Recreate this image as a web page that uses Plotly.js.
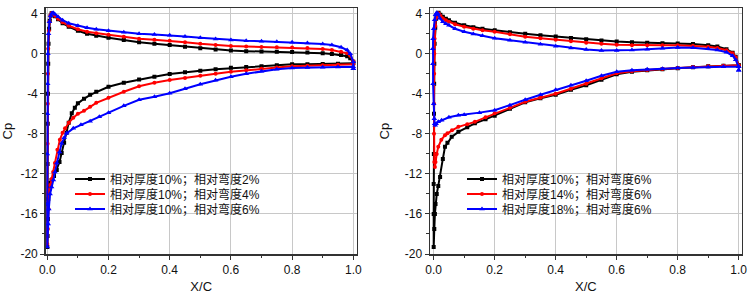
<!DOCTYPE html>
<html>
<head>
<meta charset="utf-8">
<script src="https://cdn.plot.ly/plotly-3.0.1.min.js"></script>
<style>html,body{margin:0;padding:0;background:#fff;}#chart{width:748px;height:301px;}</style>
</head>
<body>
<div id="chart"></div>
<script>
// ---- Series names ----
const namesLeft = ["相对厚度10%；相对弯度2%", "相对厚度10%；相对弯度4%", "相对厚度10%；相对弯度6%"];
const namesRight = ["相对厚度10%；相对弯度6%", "相对厚度14%；相对弯度6%", "相对厚度18%；相对弯度6%"];

// ---- Left panel: thickness 10%, camber 2% ----
const L1_x = [1.0,0.95,0.9,0.85,0.8,0.75,0.7,0.65,0.6,0.55,0.5,0.45,0.4,0.35,0.3,0.25,0.2,0.16,0.14,0.12,0.1,0.09,0.08,0.07,0.063,0.055,0.047,0.04,0.031,0.022,0.014,0.008,0.005,0.003,0.002,0.001,0.0,
  0.0005,0.001,0.0015,0.002,0.003,0.004,0.006,0.008,0.011,0.014,0.018,0.025,0.035,0.05,0.07,0.1,0.13,0.16,0.2,0.25,0.3,0.35,0.4,0.45,0.5,0.55,0.6,0.65,0.7,0.75,0.8,0.85,0.9,0.93,0.96,0.98,0.99,1.0];
const L1_y = [-0.95,-1.0,-1.02,-1.04,-1.06,-1.15,-1.25,-1.32,-1.4,-1.55,-1.7,-1.85,-2.03,-2.3,-2.58,-2.9,-3.3,-3.8,-4.1,-4.5,-4.95,-5.4,-5.95,-6.9,-7.9,-8.9,-9.9,-10.8,-11.6,-12.2,-12.6,-12.9,-13.0,-14.5,-16.5,-18.2,-19.3,
  -15,-11,-7,-4,-1,1,2.5,3.3,3.8,4.05,4.0,3.75,3.45,3.05,2.7,2.3,2.0,1.8,1.6,1.38,1.15,1.0,0.87,0.7,0.55,0.42,0.32,0.26,0.22,0.2,0.17,0.12,0.05,-0.02,-0.12,-0.25,-0.45,-0.8];

// ---- Left panel: thickness 10%, camber 4% ----
const L2_x = [1.0,0.95,0.9,0.85,0.8,0.75,0.7,0.65,0.6,0.55,0.5,0.45,0.4,0.35,0.3,0.25,0.2,0.16,0.14,0.12,0.1,0.085,0.07,0.058,0.05,0.041,0.033,0.025,0.019,0.014,0.01,0.007,0.004,0.002,0.0,
  0.0005,0.001,0.0015,0.002,0.003,0.005,0.007,0.01,0.014,0.018,0.025,0.035,0.05,0.07,0.1,0.13,0.16,0.2,0.25,0.3,0.35,0.4,0.45,0.5,0.55,0.6,0.65,0.7,0.75,0.8,0.85,0.9,0.93,0.96,0.98,0.99,1.0];
const L2_y = [-1.05,-1.1,-1.15,-1.2,-1.26,-1.38,-1.5,-1.65,-1.8,-2.0,-2.2,-2.42,-2.63,-2.9,-3.25,-3.8,-4.4,-4.9,-5.3,-5.7,-6.0,-6.4,-6.9,-7.45,-7.9,-8.6,-9.6,-10.9,-11.8,-12.5,-13.1,-13.6,-15.5,-17.5,-19.0,
  -14,-9,-5,-2,0.5,2.3,3.2,3.8,4.05,4.0,3.8,3.5,3.15,2.8,2.45,2.2,2.05,1.9,1.7,1.5,1.4,1.3,1.15,1.0,0.88,0.78,0.72,0.68,0.66,0.63,0.57,0.48,0.38,0.2,0.04,-0.2,-0.75];

// ---- Left panel: thickness 10%, camber 6% ----
const L3_x = [1.0,1.0,0.95,0.9,0.85,0.8,0.75,0.7,0.65,0.6,0.55,0.5,0.45,0.4,0.35,0.3,0.25,0.2,0.17,0.14,0.11,0.085,0.063,0.055,0.047,0.04,0.031,0.025,0.02,0.014,0.009,0.005,0.003,0.0,
  0.0,0.0,0.0005,0.001,0.002,0.004,0.007,0.011,0.015,0.019,0.025,0.035,0.05,0.07,0.1,0.13,0.16,0.2,0.25,0.3,0.35,0.4,0.45,0.5,0.55,0.6,0.65,0.7,0.75,0.8,0.85,0.9,0.93,0.96,0.98,0.99,1.0,1.0];
const L3_y = [-1.5,-1.3,-1.32,-1.35,-1.38,-1.42,-1.55,-1.75,-2.0,-2.3,-2.65,-3.05,-3.5,-3.95,-4.3,-4.6,-5.2,-5.9,-6.3,-6.75,-7.1,-7.45,-7.95,-8.4,-8.95,-9.8,-10.9,-11.8,-12.6,-13.3,-14.0,-15.5,-17,-19.3,
  -15,-10,-6,-3,0,2,3.2,3.8,4.05,4.1,3.95,3.7,3.35,3.05,2.8,2.6,2.45,2.3,2.15,2.0,1.92,1.84,1.72,1.6,1.48,1.37,1.3,1.25,1.2,1.14,1.08,0.98,0.88,0.65,0.37,0.0,-0.8,-1.5];

// ---- Right panel: thickness 10%, camber 6% ----
const R1_x = [1.0,0.95,0.9,0.85,0.8,0.75,0.7,0.65,0.6,0.55,0.5,0.45,0.4,0.35,0.3,0.25,0.2,0.17,0.135,0.11,0.081,0.059,0.045,0.037,0.03,0.021,0.015,0.01,0.006,0.004,0.002,0.0,
  0.0,0.0,0.0005,0.001,0.0015,0.002,0.003,0.005,0.008,0.012,0.016,0.022,0.03,0.04,0.05,0.07,0.1,0.13,0.16,0.2,0.25,0.3,0.35,0.4,0.45,0.5,0.55,0.6,0.65,0.7,0.75,0.8,0.85,0.9,0.93,0.96,0.98,0.99,1.0];
const R1_y = [-1.15,-1.2,-1.25,-1.35,-1.45,-1.55,-1.65,-1.8,-2.05,-2.6,-3.15,-3.6,-4.1,-4.45,-4.85,-5.5,-6.2,-6.55,-6.95,-7.35,-7.8,-8.3,-8.9,-9.3,-10.5,-12.3,-13.2,-14.0,-15,-16,-17.5,-19.3,
  -16,-13,-10,-6,-3,-1,1,2.6,3.5,4.0,4.1,3.9,3.7,3.5,3.35,3.1,2.85,2.65,2.5,2.35,2.15,2.0,1.85,1.72,1.58,1.45,1.32,1.22,1.15,1.1,1.06,1.03,0.97,0.85,0.72,0.45,0.1,-0.3,-1.15];

// ---- Right panel: thickness 14%, camber 6% ----
const R2_x = [1.0,0.95,0.9,0.85,0.8,0.75,0.7,0.65,0.6,0.55,0.5,0.45,0.4,0.35,0.3,0.25,0.2,0.17,0.135,0.11,0.081,0.06,0.045,0.037,0.025,0.015,0.01,0.006,0.004,0.002,
  0.001,0.001,0.0015,0.002,0.003,0.005,0.008,0.012,0.016,0.022,0.03,0.04,0.05,0.07,0.1,0.13,0.16,0.2,0.25,0.3,0.35,0.4,0.45,0.5,0.55,0.6,0.65,0.7,0.75,0.8,0.85,0.9,0.93,0.96,0.98,0.99,1.0];
const R2_y = [-1.15,-1.2,-1.25,-1.33,-1.42,-1.52,-1.62,-1.75,-1.95,-2.45,-3.0,-3.5,-4.0,-4.4,-4.8,-5.4,-5.95,-6.35,-6.8,-7.05,-7.3,-7.65,-7.95,-8.13,-8.6,-9.3,-10.0,-10.8,-11.3,-10.8,
  -8,-5,-2,0,1.5,2.8,3.6,4.0,4.05,3.8,3.55,3.35,3.2,2.95,2.7,2.5,2.35,2.2,1.95,1.7,1.55,1.4,1.25,1.1,1.0,0.9,0.86,0.85,0.85,0.85,0.8,0.7,0.58,0.35,0.05,-0.35,-1.2];

// ---- Right panel: thickness 18%, camber 6% ----
const R3_x = [1.0,1.0,0.95,0.9,0.85,0.8,0.75,0.7,0.65,0.6,0.55,0.5,0.45,0.4,0.35,0.3,0.25,0.2,0.15,0.1,0.081,0.05,0.026,0.015,0.008,0.005,0.003,0.002,0.0,-0.002,-0.003,-0.003,-0.002,0.0,
  0.003,0.006,0.01,0.014,0.02,0.03,0.04,0.05,0.07,0.1,0.13,0.16,0.2,0.25,0.3,0.35,0.4,0.45,0.5,0.55,0.6,0.65,0.7,0.75,0.8,0.85,0.9,0.93,0.96,0.98,0.99,1.0,1.0];
const R3_y = [-1.65,-1.3,-1.3,-1.32,-1.38,-1.42,-1.5,-1.56,-1.65,-1.8,-2.2,-2.7,-3.15,-3.6,-4.1,-4.6,-5.15,-5.65,-5.88,-6.08,-6.15,-6.35,-6.63,-6.8,-7.0,-7.13,-7.0,-6.5,-5,-3,-1,0.5,1.5,2.5,
  3.4,3.9,4.1,4.0,3.55,3.2,3.0,2.85,2.5,2.2,1.98,1.8,1.55,1.35,1.15,0.95,0.75,0.58,0.42,0.32,0.33,0.38,0.45,0.55,0.62,0.6,0.5,0.38,0.15,-0.2,-0.6,-1.3,-1.65];

// ---- Tick labels ----
const xTickVals = [0, 0.2, 0.4, 0.6, 0.8, 1.0];
const xTickText = ["0.0", "0.2", "0.4", "0.6", "0.8", "1.0"];
const yTickVals = [-20, -16, -12, -8, -4, 0, 4];
const yTickText = ["-20", "-16", "-12", "-8", "-4", "0", "4"];

const colors = ["#000000", "#ff0000", "#0000ff"];
const symbols = ["square", "circle", "triangle-up"];
const msizes = [4, 4, 5];

const W = 748, H = 301;
const FONT = "Liberation Sans, Arial, Noto Sans CJK SC, sans-serif";

function trace(x, y, i, name, xa, ya, leg) {
  return {
    x: x, y: y, name: name, type: "scatter", mode: "lines+markers",
    xaxis: xa, yaxis: ya, legend: leg,
    line: {color: colors[i], width: 2},
    marker: {color: colors[i], symbol: symbols[i], size: msizes[i], line: {width: 0}},
    cliponaxis: true
  };
}

const data = [
  trace(L1_x, L1_y, 0, namesLeft[0], "x", "y", "legend"),
  trace(L2_x, L2_y, 1, namesLeft[1], "x", "y", "legend2"),
  trace(L3_x, L3_y, 2, namesLeft[2], "x", "y", "legend3"),
  trace(R1_x, R1_y, 0, namesRight[0], "x2", "y2", "legend4"),
  trace(R2_x, R2_y, 1, namesRight[1], "x2", "y2", "legend5"),
  trace(R3_x, R3_y, 2, namesRight[2], "x2", "y2", "legend6")
];

function xaxis(domain, range, anchor) {
  return {
    domain: domain, range: range, anchor: anchor,
    tickmode: "array", tickvals: xTickVals, ticktext: xTickText,
    ticks: "outside", ticklen: 4, tickwidth: 1, tickcolor: "#333",
    minor: {tickmode: "array", tickvals: [0.1, 0.3, 0.5, 0.7, 0.9], ticks: "outside", ticklen: 2.5, tickcolor: "#333", showgrid: false},
    showgrid: true, gridcolor: "#c8c8c8", gridwidth: 1,
    showline: true, linecolor: "#333", linewidth: 1.5, mirror: true,
    zeroline: false,
    tickfont: {family: FONT, size: 12, color: "#111"},
    title: {text: "X/C", font: {family: FONT, size: 13, color: "#111"}, standoff: 6}
  };
}
function yaxis(domain, anchor) {
  return {
    domain: domain, range: [-20, 4.54], anchor: anchor,
    tickmode: "array", tickvals: yTickVals, ticktext: yTickText,
    ticks: "outside", ticklen: 4, tickwidth: 1, tickcolor: "#333",
    minor: {tickmode: "array", tickvals: [-18, -14, -10, -6, -2, 2], ticks: "outside", ticklen: 2.5, tickcolor: "#333", showgrid: false},
    showgrid: true, gridcolor: "#c8c8c8", gridwidth: 1,
    showline: true, linecolor: "#333", linewidth: 1.5, mirror: true,
    zeroline: false,
    tickfont: {family: FONT, size: 12, color: "#111"},
    title: {text: "Cp", font: {family: FONT, size: 13, color: "#111"}, standoff: 12}
  };
}

function leg(px, py) {
  return {
    x: px / W, y: 1 - py / H, xanchor: "left", yanchor: "middle",
    bgcolor: "rgba(0,0,0,0)", borderwidth: 0,
    font: {family: FONT, size: 12, color: "#111"},
    itemclick: false, itemdoubleclick: false
  };
}

const yDom = [(H - 254) / H, (H - 8.3) / H];
const layout = {
  width: W, height: H,
  margin: {l: 0, r: 0, t: 0, b: 0, pad: 0},
  paper_bgcolor: "#ffffff", plot_bgcolor: "#ffffff",
  showlegend: true,
  xaxis: xaxis([45.7 / W, 356.7 / W], [-0.0052, 1.0111], "y"),
  yaxis: yaxis(yDom, "x"),
  xaxis2: xaxis([430 / W, 741.7 / W], [-0.0121, 1.0098], "y2"),
  yaxis2: yaxis(yDom, "x2"),
  legend: leg(70, 179),
  legend2: leg(70, 194),
  legend3: leg(70, 209),
  legend4: leg(462, 179),
  legend5: leg(462, 194),
  legend6: leg(462, 209)
};

Plotly.newPlot("chart", data, layout, {staticPlot: true, displayModeBar: false});
</script>
</body>
</html>
